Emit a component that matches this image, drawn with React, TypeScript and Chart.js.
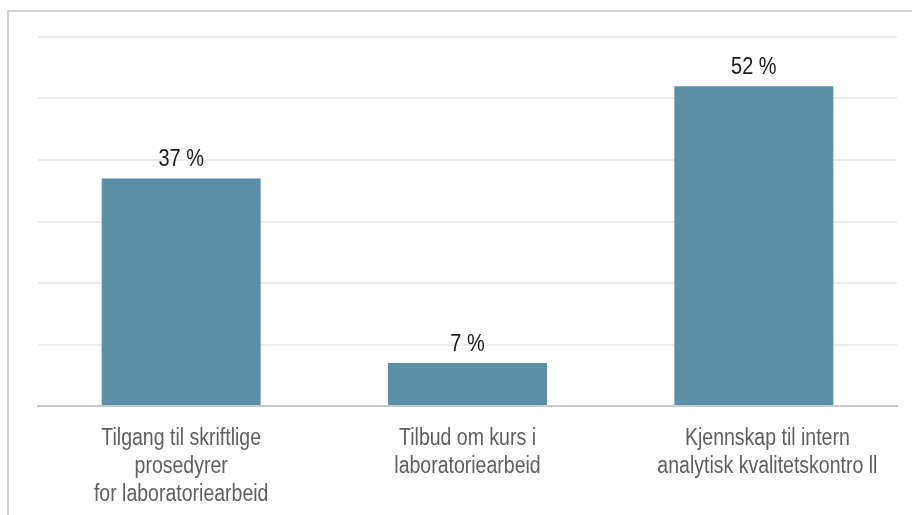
import React, { useEffect, useRef } from "react";
import { Chart, registerables } from "chart.js";

Chart.register(...registerables);

const categories: string[][] = [
  ["Tilgang til skriftlige", "prosedyrer", "for laboratoriearbeid"],
  ["Tilbud om kurs i", "laboratoriearbeid"],
  ["     Kjennskap til intern", "     analytisk kvalitetskontro ll"],
];
const values: number[] = [37, 7, 52];
const valueLabels: string[] = ["37 %", "7 %", "52 %"];
const yMin = 0;
const yMax = 60;
const yStep = 10;

const FONT = '"Liberation Sans", Arial, sans-serif';

// Draws condensed text (horizontal squeeze of Liberation Sans ≈ Arial Narrow)
function drawCondensed(ctx: CanvasRenderingContext2D, text: string, x: number, y: number, sx: number) {
  ctx.save();
  ctx.translate(x, y);
  ctx.scale(sx, 1);
  ctx.fillText(text, 0, 0);
  ctx.restore();
}

const labelPlugin = {
  id: "condensedLabels",
  afterDraw(chart: any) {
    const ctx: CanvasRenderingContext2D = chart.ctx;
    const meta = chart.getDatasetMeta(0);
    const xScale = chart.scales.x;
    ctx.save();
    ctx.textAlign = "center";
    ctx.textBaseline = "alphabetic";
    // value labels above bars
    ctx.font = `23.5px ${FONT}`;
    ctx.fillStyle = "#1a1a1a";
    meta.data.forEach((bar: any, i: number) => {
      drawCondensed(ctx, valueLabels[i], bar.x, bar.y - 12, 0.85);
    });
    // category labels under axis
    ctx.font = `23.5px ${FONT}`;
    ctx.fillStyle = "#5f5f5f";
    const base = xScale.top + 39;
    const lineH = 28;
    categories.forEach((lines, i) => {
      const x = xScale.getPixelForValue(i);
      lines.forEach((ln, j) => {
        drawCondensed(ctx, ln, x, base + j * lineH, 0.83);
      });
    });
    ctx.restore();
  },
};

export default function App() {
  const ref = useRef<HTMLCanvasElement | null>(null);
  useEffect(() => {
    if (!ref.current) return;
    const chart = new Chart(ref.current, {
      type: "bar",
      data: {
        labels: categories,
        datasets: [
          {
            data: values,
            backgroundColor: "#5b8fa6",
            borderWidth: 0,
            barPercentage: 0.555,
            categoryPercentage: 1,
          },
        ],
      },
      options: {
        responsive: false,
        animation: false,
        layout: { padding: { left: 38, right: 15, top: 37, bottom: 0 } },
        plugins: {
          legend: { display: false },
          tooltip: { enabled: false },
          title: { display: false },
        },
        scales: {
          x: {
            grid: { display: false, drawTicks: false },
            border: { display: true, color: "#c9c9c9", width: 2 },
            ticks: { display: false },
            afterFit(scale: any) {
              scale.height = 109;
            },
          },
          y: {
            min: yMin,
            max: yMax,
            ticks: { display: false, stepSize: yStep },
            grid: {
              drawTicks: false,
              lineWidth: 2,
              color: (c: any) => (c.tick && c.tick.value === 0 ? "rgba(0,0,0,0)" : "#ebebeb"),
            },
            border: { display: false },
            afterFit(scale: any) {
              scale.width = 0;
            },
          },
        },
      },
      plugins: [labelPlugin],
    });
    return () => chart.destroy();
  }, []);

  return (
    <div
      style={{
        position: "absolute",
        left: 0,
        top: 0,
        width: 912,
        height: 515,
        overflow: "hidden",
        background: "#ffffff",
      }}
    >
      <div
        style={{
          position: "absolute",
          left: 7,
          top: 10,
          width: 930,
          height: 530,
          borderTop: "2px solid #d4d4d4",
          borderLeft: "2px solid #d4d4d4",
        }}
      />
      <canvas
        ref={ref}
        width={912}
        height={515}
        style={{ position: "absolute", left: 0, top: 0, display: "block" }}
      />
    </div>
  );
}
